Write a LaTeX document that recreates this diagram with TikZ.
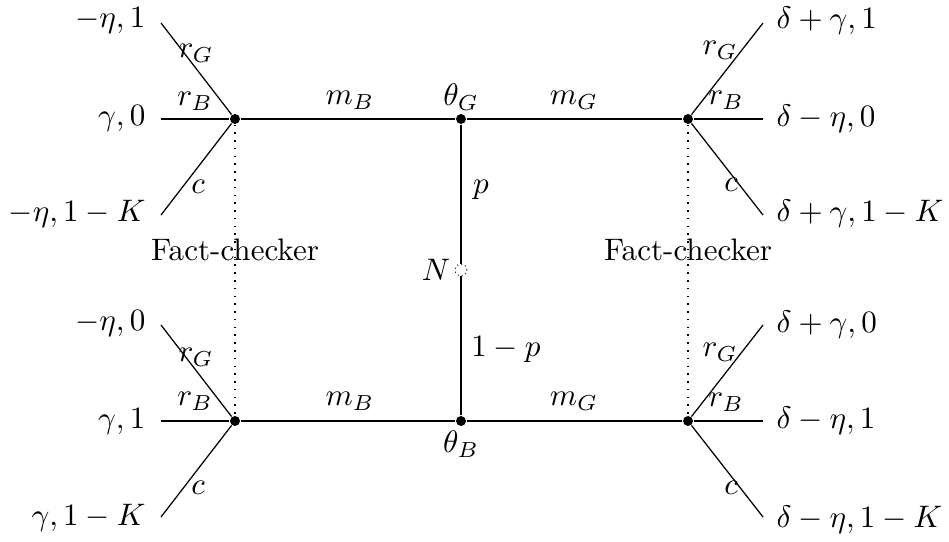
\documentclass[tikz,border=0pt]{standalone}
\begin{document}
\begin{tikzpicture}[x=0.0113cm,y=-0.0113cm,
  dotnode/.style={circle,fill=black,inner sep=0pt,minimum size=3.2pt},
  chance/.style={circle,draw,densely dotted,fill=white,inner sep=0pt,minimum size=3.8pt,line width=0.3pt},
  edge/.style={line width=0.4pt},
  infoset/.style={dotted,line width=0.5pt},
  lbl/.style={inner sep=0pt},
  payl/.style={anchor=east,inner sep=0pt},
  payr/.style={anchor=west,inner sep=0pt}]
\useasboundingbox (0,0) rectangle (949,541);
% decision nodes
\node[dotnode] (L1) at (235,119) {};
\node[dotnode] (G) at (461,119) {};
\node[dotnode] (R1) at (688,119) {};
\node[dotnode] (L2) at (235,421) {};
\node[dotnode] (B) at (461,421) {};
\node[dotnode] (R2) at (688,421) {};
\node[chance] (N) at (461,270) {};
% terminal points
\coordinate (t1) at (161,23);  \coordinate (t2) at (161,119); \coordinate (t3) at (161,215);
\coordinate (t4) at (161,325); \coordinate (t5) at (161,421); \coordinate (t6) at (161,517);
\coordinate (u1) at (763,23);  \coordinate (u2) at (763,119); \coordinate (u3) at (763,215);
\coordinate (u4) at (763,325); \coordinate (u5) at (763,421); \coordinate (u6) at (763,517);
% edges
\draw[edge] (L1) -- (G) -- (R1);
\draw[edge] (L2) -- (B) -- (R2);
\draw[edge] (G) -- (N) -- (B);
\foreach \a/\t in {L1/t1,L1/t2,L1/t3,L2/t4,L2/t5,L2/t6,R1/u1,R1/u2,R1/u3,R2/u4,R2/u5,R2/u6}
  \draw[edge] (\a) -- (\t);
\draw[infoset] (L1) -- (L2);
\draw[infoset] (R1) -- (R2);
% labels
\node[lbl] (lmb1) at (350,100) {$m_B$};
\node[lbl] (lmg1) at (574,100) {$m_G$};
\node[lbl] (lmb2) at (350,401) {$m_B$};
\node[lbl] (lmg2) at (574,401) {$m_G$};
\node[lbl] (ltg) at (461,97) {$\theta_G$};
\node[lbl] (ltb) at (461,444) {$\theta_B$};
\node[lbl] (lN) at (436,270) {$N$};
\node[lbl] (lp) at (481,190) {$p$};
\node[lbl] (l1p) at (506,349) {$1-p$};
\node[lbl] (fc1) at (235,250) {Fact-checker};
\node[lbl] (fc2) at (688,250) {Fact-checker};
% action labels
\node[lbl] (a1) at (196,53) {$r_G$};
\node[lbl] (a2) at (195,101) {$r_B$};
\node[lbl] (a3) at (198,187) {$c$};
\node[lbl] (a4) at (196,357) {$r_G$};
\node[lbl] (a5) at (195,401) {$r_B$};
\node[lbl] (a6) at (198,488) {$c$};
\node[lbl] (b1) at (720,50) {$r_G$};
\node[lbl] (b2) at (726,100) {$r_B$};
\node[lbl] (b3) at (731,185) {$c$};
\node[lbl] (b4) at (720,352) {$r_G$};
\node[lbl] (b5) at (726,402) {$r_B$};
\node[lbl] (b6) at (731,488) {$c$};
% payoffs
\node[payl] (p1) at (146,21) {$-\eta,1$};
\node[payl] (p2) at (146,119) {$\gamma,0$};
\node[payl] (p3) at (146,214) {$-\eta,1-K$};
\node[payl] (p4) at (146,323) {$-\eta,0$};
\node[payl] (p5) at (146,421) {$\gamma,1$};
\node[payl] (p6) at (146,518) {$\gamma,1-K$};
\node[payr] (q1) at (776,21) {$\delta+\gamma,1$};
\node[payr] (q2) at (776,119) {$\delta-\eta,0$};
\node[payr] (q3) at (776,214) {$\delta+\gamma,1-K$};
\node[payr] (q4) at (776,325) {$\delta+\gamma,0$};
\node[payr] (q5) at (776,421) {$\delta-\eta,1$};
\node[payr] (q6) at (776,520) {$\delta-\eta,1-K$};
\end{tikzpicture}
\end{document}
